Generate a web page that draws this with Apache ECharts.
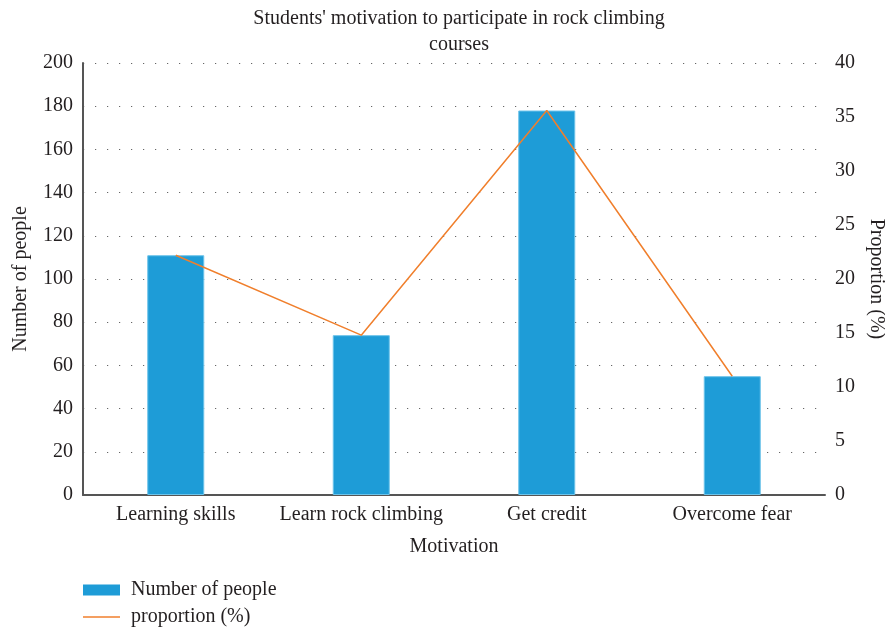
<!DOCTYPE html>
<html>
<head>
<meta charset="utf-8">
<script src="https://cdn.jsdelivr.net/npm/echarts@6/dist/echarts.min.js"></script>
<style>
  html, body { margin: 0; padding: 0; background: #fff; }
  #chart { width: 885px; height: 629px; }
</style>
</head>
<body>
<div id="chart"></div>
<script>
// Motivation categories and survey results
const categories = ['Learning skills', 'Learn rock climbing', 'Get credit', 'Overcome fear'];
const peopleCounts = [111, 74, 178, 55];
const proportions = [22.2, 14.8, 35.6, 11.0];
const leftTicks = { min: 0, max: 200, interval: 20 };
const rightTicks = { min: 0, max: 40, interval: 5 };

const FONT = '"Liberation Serif", "DejaVu Serif", serif';
const TEXT = '#231f20';
const FS = 20;

const chart = echarts.init(document.getElementById('chart'));
chart.setOption({
  animation: false,
  textStyle: { fontFamily: FONT, color: TEXT },
  title: {
    text: "Students' motivation to participate in rock climbing\ncourses",
    left: 454, top: 1, textAlign: 'center',
    textStyle: { fontFamily: FONT, fontSize: FS, fontWeight: 'normal', color: TEXT, lineHeight: 26 }
  },
  grid: { left: 83, right: 60, top: 63, bottom: 134, outerBoundsMode: 'none', containLabel: false },
  legend: {
    orient: 'vertical', left: 83, top: 580, height: 60, padding: 0,
    itemWidth: 37, itemHeight: 11, itemGap: 7,
    textStyle: { fontFamily: FONT, fontSize: FS, color: TEXT, padding: [0, 0, 0, 6] },
    data: [
      { name: 'Number of people', icon: 'rect', itemStyle: { borderWidth: 0 } },
      { name: 'proportion (%)', icon: 'path://M0,0 L37,0 L37,1.4 L0,1.4 Z' }
    ]
  },
  xAxis: {
    type: 'category', data: categories,
    name: 'Motivation', nameLocation: 'middle', nameGap: 42,
    nameTextStyle: { fontFamily: FONT, fontSize: FS, color: TEXT },
    axisLine: { lineStyle: { color: '#555', width: 2 } },
    axisTick: { show: false },
    axisLabel: { fontFamily: FONT, fontSize: FS, color: TEXT, margin: 10, interval: 0 }
  },
  yAxis: [
    {
      type: 'value', min: leftTicks.min, max: leftTicks.max, interval: leftTicks.interval,
      name: 'Number of people', nameLocation: 'middle', nameGap: 52, nameRotate: 90,
      nameTextStyle: { fontFamily: FONT, fontSize: FS, color: TEXT },
      axisLine: { show: true, lineStyle: { color: '#555', width: 2 } },
      axisTick: { show: false },
      axisLabel: { fontFamily: FONT, fontSize: FS, color: TEXT, margin: 10 },
      splitLine: { show: true, lineStyle: { color: '#666', width: 1.2, type: [1.2, 10.8] } }
    },
    {
      type: 'value', min: rightTicks.min, max: rightTicks.max, interval: rightTicks.interval,
      name: 'Proportion (%)', nameLocation: 'middle', nameGap: 39, nameRotate: -90,
      nameTextStyle: { fontFamily: FONT, fontSize: FS, color: TEXT },
      axisLine: { show: false },
      axisTick: { show: false },
      axisLabel: { fontFamily: FONT, fontSize: FS, color: TEXT, margin: 10 },
      splitLine: { show: false }
    }
  ],
  series: [
    {
      name: 'Number of people', type: 'bar', data: peopleCounts,
      barWidth: 57,
      itemStyle: { color: '#1e9cd7', borderColor: '#6cc3ea', borderWidth: 1 }
    },
    {
      name: 'proportion (%)', type: 'line', yAxisIndex: 1, data: proportions,
      symbol: 'none',
      lineStyle: { color: '#f07f2c', width: 1.5 },
      itemStyle: { color: '#f07f2c' }
    }
  ]
});
</script>
</body>
</html>
